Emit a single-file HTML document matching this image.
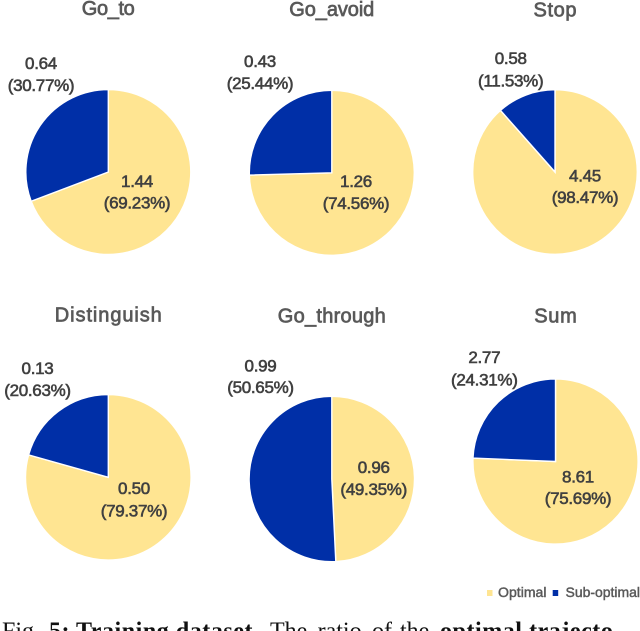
<!DOCTYPE html>
<html lang="en">
<head>
<meta charset="utf-8">
<title>Training dataset pie charts</title>
<style>
  html, body { margin: 0; padding: 0; background: #fff; }
  body { width: 640px; height: 631px; overflow: hidden; }
  svg { display: block; }
  text { font-family: "Liberation Sans", sans-serif; }
  .panel-title { font-size: 20px; fill: #595959; stroke: #595959; stroke-width: 0.7px; text-anchor: middle; }
  .value-label { font-size: 17px; letter-spacing: -0.3px; fill: #404040; stroke: #404040; stroke-width: 0.6px; text-anchor: middle; }
  .legend-label { font-size: 14px; fill: #595959; stroke: #595959; stroke-width: 0.45px; }
  .caption { font-family: "Liberation Serif", serif; font-size: 24px; fill: #111; }
  .caption-bold { font-weight: bold; letter-spacing: 0.55px; }
</style>
</head>
<body>
<svg id="chart" width="640" height="631" viewBox="0 0 640 631" xmlns="http://www.w3.org/2000/svg">
  <g id="panels"></g>
  <g>
    <g>
      <rect x="487" y="590" width="5.5" height="6" fill="#FFE592"></rect>
      <text class="legend-label" x="498" y="597" textLength="48.5" lengthAdjust="spacingAndGlyphs">Optimal</text>
    </g>
    <g>
      <rect x="552.7" y="590" width="5.5" height="6" fill="#002FA7"></rect>
      <text class="legend-label" x="565.5" y="597" textLength="74.5" lengthAdjust="spacingAndGlyphs">Sub-optimal</text>
    </g>
  </g>
  <text class="caption" y="638.7"><tspan x="2">Fig.</tspan><tspan x="49" class="caption-bold">5:</tspan><tspan x="76" class="caption-bold">Training dataset.</tspan><tspan x="270">The</tspan><tspan x="317.6">ratio</tspan><tspan x="372">of</tspan><tspan x="400">the</tspan><tspan x="440" class="caption-bold">optimal trajecto</tspan></text>
</svg>
<script>
const taskTitles = ['Go_to', 'Go_avoid', 'Stop', 'Distinguish', 'Go_through', 'Sum'];
const optimalValues = [1.44, 1.26, 4.45, 0.50, 0.96, 8.61];
const subOptimalValues = [0.64, 0.43, 0.58, 0.13, 0.99, 2.77];
const optimalValueLabels = ['1.44', '1.26', '4.45', '0.50', '0.96', '8.61'];
const subOptimalValueLabels = ['0.64', '0.43', '0.58', '0.13', '0.99', '2.77'];
const optimalPercentLabels = ['(69.23%)', '(74.56%)', '(98.47%)', '(79.37%)', '(49.35%)', '(75.69%)'];
const subOptimalPercentLabels = ['(30.77%)', '(25.44%)', '(11.53%)', '(20.63%)', '(50.65%)', '(24.31%)'];

const panelGeometry = [
  { cx: 108.3, cy: 172, r: 82.5, titleY: 15, titleW: 53, sub: [41, 69, 91], opt: [137, 187, 208.5] },
  { cx: 331.8, cy: 172.8, r: 82.5, titleY: 16, titleW: 85, sub: [260, 67, 89], opt: [356, 187, 209] },
  { cx: 555, cy: 172, r: 82.3, titleY: 16.5, titleW: 43, sub: [510.7, 64, 86.5], opt: [585, 181.7, 203] },
  { cx: 108.3, cy: 477.3, r: 82.8, titleY: 321.7, titleW: 107, sub: [37.5, 374, 396], opt: [134, 494, 516.5] },
  { cx: 331.8, cy: 479, r: 82.7, titleY: 322.5, titleW: 108, sub: [260.5, 371.7, 393], opt: [373.7, 473, 495] },
  { cx: 555.5, cy: 461.5, r: 82.6, titleY: 322.5, titleW: 42.5, sub: [484.3, 363, 385.5], opt: [578, 482.7, 504] }
];

const SVG_NS = 'http://www.w3.org/2000/svg';
const OPTIMAL_COLOR = '#FFE592';
const SUB_OPTIMAL_COLOR = '#002FA7';
const panelsRoot = document.getElementById('panels');

function slugify(name) {
  return name.toLowerCase().replace(/_/g, '-');
}

// Angle axis: share of the pie -> radians, clockwise from 12 o'clock.
function shareToAngle(share) {
  return share * 2 * Math.PI;
}

function polarPoint(geo, angle) {
  return [geo.cx + geo.r * Math.sin(angle), geo.cy - geo.r * Math.cos(angle)];
}

function slicePath(geo, startShare, endShare) {
  const a0 = shareToAngle(startShare);
  const a1 = shareToAngle(endShare);
  const p0 = polarPoint(geo, a0);
  const p1 = polarPoint(geo, a1);
  const large = endShare - startShare > 0.5 ? 1 : 0;
  return 'M' + geo.cx + ' ' + geo.cy + 'L' + p0[0] + ' ' + p0[1] +
    'A' + geo.r + ' ' + geo.r + ' 0 ' + large + ' 1 ' + p1[0] + ' ' + p1[1] + 'Z';
}

function addLabelLine(parent, cssName, x, y, content) {
  const t = document.createElementNS(SVG_NS, 'text');
  t.setAttribute('class', 'value-label');
  
  
  t.setAttribute('x', x);
  t.setAttribute('y', y);
  t.textContent = content;
  parent.appendChild(t);
}

taskTitles.forEach(function (title, i) {
  const geo = panelGeometry[i];
  const slug = slugify(title);
  const total = optimalValues[i] + subOptimalValues[i];
  const optimalShare = optimalValues[i] / total;

  const group = document.createElementNS(SVG_NS, 'g');
  
  
  panelsRoot.appendChild(group);

  const heading = document.createElementNS(SVG_NS, 'text');
  heading.setAttribute('class', 'panel-title');
  
  
  heading.setAttribute('x', geo.cx);
  heading.setAttribute('y', geo.titleY);
  heading.setAttribute('textLength', geo.titleW);
  heading.textContent = title;
  group.appendChild(heading);

  const optimalSlice = document.createElementNS(SVG_NS, 'path');
  
  
  optimalSlice.setAttribute('d', slicePath(geo, 0, optimalShare));
  optimalSlice.setAttribute('fill', OPTIMAL_COLOR);
  optimalSlice.setAttribute('stroke', '#fff');
  optimalSlice.setAttribute('stroke-width', '1.4');
  group.appendChild(optimalSlice);

  const subOptimalSlice = document.createElementNS(SVG_NS, 'path');
  
  
  subOptimalSlice.setAttribute('d', slicePath(geo, optimalShare, 1));
  subOptimalSlice.setAttribute('fill', SUB_OPTIMAL_COLOR);
  subOptimalSlice.setAttribute('stroke', '#fff');
  subOptimalSlice.setAttribute('stroke-width', '1.4');
  group.appendChild(subOptimalSlice);

  addLabelLine(group, 'value-sub-optimal-' + slug, geo.sub[0], geo.sub[1], subOptimalValueLabels[i]);
  addLabelLine(group, 'percent-sub-optimal-' + slug, geo.sub[0], geo.sub[2], subOptimalPercentLabels[i]);
  addLabelLine(group, 'value-optimal-' + slug, geo.opt[0], geo.opt[1], optimalValueLabels[i]);
  addLabelLine(group, 'percent-optimal-' + slug, geo.opt[0], geo.opt[2], optimalPercentLabels[i]);
});
</script>
</body>
</html>
